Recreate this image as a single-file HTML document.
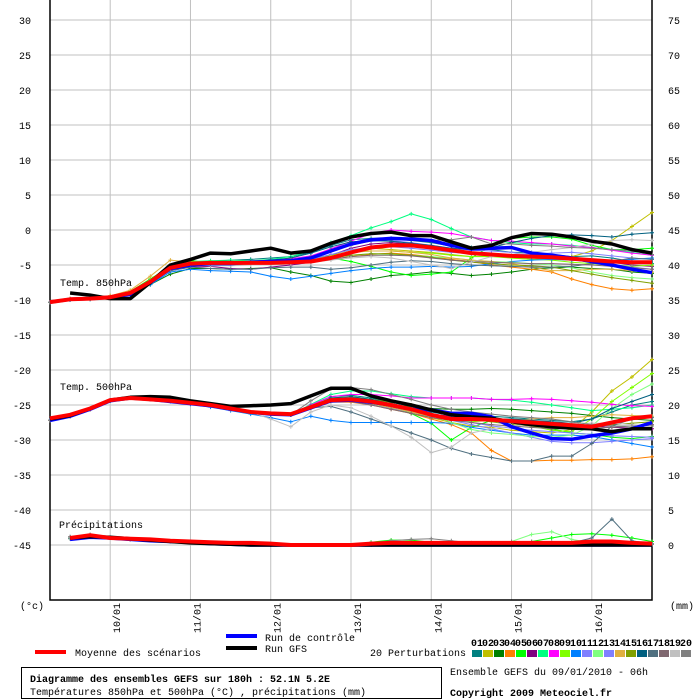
<!DOCTYPE html>
<html><head><meta charset="utf-8"><style>
body{margin:0;background:#fff;width:700px;height:700px;overflow:hidden}
svg{display:block}
text{font-family:"Liberation Mono","DejaVu Sans Mono",monospace;font-size:10px;fill:#000}
</style></head><body>
<svg id="chart" width="700" height="700" xmlns="http://www.w3.org/2000/svg"></svg>
<script>
const dateLabels=["10/01","11/01","12/01","13/01","14/01","15/01","16/01"];
const leftTicks=[30,25,20,15,10,5,0,-5,-10,-15,-20,-25,-30,-35,-40,-45];
const rightTicks=[75,70,65,60,55,50,45,40,35,30,25,20,15,10,5,0];
const pertColors=["#008080","#c0c000","#008000","#ff8000","#00ff00","#800080","#00ff80","#ff00ff","#80ff00","#0080ff","#8080ff","#80ff80","#8080ff","#e0b040","#80a000","#006080","#507080","#806870","#c0c0c0","#808080"];
const mean850=[-10.3,-9.9,-9.8,-9.6,-9.0,-7.4,-5.4,-4.8,-4.7,-4.7,-4.7,-4.7,-4.6,-4.5,-4.0,-3.2,-2.5,-2.2,-2.2,-2.5,-2.9,-3.3,-3.5,-3.7,-3.8,-3.9,-4.1,-4.3,-4.5,-4.6,-4.6];
const gfs850=[null,-9.0,-9.3,-9.8,-9.8,-7.5,-5.0,-4.2,-3.3,-3.4,-3.0,-2.6,-3.3,-3.0,-1.9,-1.0,-0.5,-0.3,-0.8,-0.8,-1.7,-2.6,-2.2,-1.1,-0.5,-0.6,-1.0,-1.6,-2.0,-2.8,-3.3];
const ctrl850=[-10.3,-9.9,-9.8,-9.6,-9.2,-7.5,-5.5,-5.0,-4.8,-4.8,-4.6,-4.5,-4.4,-4.0,-3.0,-2.0,-1.4,-1.2,-1.3,-1.5,-2.2,-2.7,-2.6,-2.5,-3.3,-3.6,-4.0,-4.5,-5.0,-5.6,-6.1];
const pert850=[
[-10.3,-9.9,-9.7,-9.5,-9.0,-7.3,-5.3,-4.5,-4.5,-4.3,-4.2,-4.0,-3.8,-3.2,-2.2,-1.4,-1.2,-1.2,-1.5,-1.8,-2.3,-2.5,-2.8,-3.2,-3.2,-3.5,-3.8,-3.7,-4.0,-4.5,-4.8],
[-10.3,-9.9,-9.8,-9.5,-8.8,-7.0,-5.2,-4.6,-4.8,-4.9,-4.7,-4.3,-4.5,-4.2,-3.6,-2.8,-2.6,-2.8,-3.0,-3.2,-3.5,-3.8,-3.7,-4.0,-4.2,-4.0,-3.8,-3.0,-1.5,0.5,2.5],
[-10.3,-10.0,-9.9,-9.6,-9.2,-7.8,-6.3,-5.5,-5.5,-5.6,-5.5,-5.4,-6.0,-6.5,-7.3,-7.5,-7.0,-6.5,-6.3,-6.0,-6.2,-6.5,-6.3,-6.0,-5.6,-5.4,-5.3,-5.5,-5.6,-6.0,-6.2],
[-10.3,-9.9,-9.8,-9.4,-8.8,-7.1,-5.3,-4.7,-4.8,-4.8,-4.6,-4.6,-4.8,-4.5,-4.2,-3.8,-3.5,-3.3,-3.5,-3.8,-4.2,-4.5,-5.0,-5.3,-5.6,-6.0,-7.0,-7.8,-8.4,-8.6,-8.4],
[-10.3,-9.8,-9.7,-9.5,-8.8,-7.0,-5.2,-4.3,-4.8,-4.9,-4.8,-4.7,-4.6,-4.3,-4.0,-4.5,-5.2,-6.0,-6.5,-6.3,-6.0,-4.0,-2.2,-1.2,-1.0,-1.0,-1.3,-2.2,-2.8,-2.8,-2.6],
[-10.3,-9.9,-9.8,-9.6,-9.0,-7.5,-5.8,-5.3,-5.2,-5.5,-5.6,-5.3,-5.0,-4.6,-3.6,-2.6,-2.0,-1.8,-2.0,-2.3,-2.8,-3.2,-3.4,-3.6,-3.8,-4.0,-4.2,-4.4,-4.6,-5.0,-5.2],
[-10.3,-9.9,-9.8,-9.6,-8.9,-7.2,-5.2,-4.5,-4.4,-4.3,-4.4,-4.2,-3.8,-3.0,-1.8,-0.8,0.3,1.2,2.3,1.5,0.2,-1.0,-1.5,-1.8,-2.0,-2.0,-2.2,-2.5,-2.8,-3.2,-3.6],
[-10.3,-9.9,-9.8,-9.5,-8.9,-7.2,-5.3,-4.6,-4.7,-4.7,-4.5,-4.3,-4.1,-3.7,-2.7,-1.6,-0.5,0.0,-0.2,-0.3,-0.5,-1.0,-1.5,-1.6,-1.8,-2.0,-2.3,-2.5,-2.9,-3.3,-3.6],
[-10.3,-9.9,-9.8,-9.5,-8.9,-7.2,-5.2,-4.5,-4.6,-4.7,-4.5,-4.4,-4.3,-4.0,-3.6,-3.2,-3.0,-3.0,-3.2,-3.3,-3.6,-3.8,-3.8,-4.0,-4.2,-4.3,-4.6,-4.8,-5.0,-5.2,-5.0],
[-10.3,-10.0,-9.9,-9.6,-9.2,-7.8,-6.0,-5.6,-5.8,-5.9,-6.0,-6.6,-7.0,-6.6,-6.2,-5.8,-5.5,-5.3,-5.3,-5.2,-5.3,-5.2,-4.8,-4.5,-4.3,-4.2,-4.3,-4.5,-4.4,-4.2,-4.0],
[-10.3,-9.9,-9.8,-9.6,-9.0,-7.4,-5.5,-4.9,-4.9,-4.8,-4.7,-4.6,-4.4,-4.0,-3.0,-2.0,-1.6,-1.5,-1.8,-2.2,-2.6,-2.9,-3.0,-3.2,-3.5,-3.8,-4.2,-4.6,-5.0,-5.3,-5.6],
[-10.3,-9.9,-9.8,-9.6,-9.0,-7.3,-5.4,-4.8,-4.8,-4.8,-4.7,-4.7,-4.6,-4.4,-4.0,-3.6,-3.4,-3.5,-3.6,-3.8,-4.0,-4.3,-4.5,-4.6,-4.8,-5.0,-5.4,-6.0,-6.5,-6.8,-7.0],
[-10.3,-9.9,-9.8,-9.6,-9.1,-7.5,-5.6,-5.0,-5.1,-5.0,-4.9,-4.8,-4.6,-4.2,-3.5,-2.8,-2.5,-2.4,-2.6,-2.9,-3.2,-3.4,-3.6,-3.5,-3.4,-3.3,-3.2,-3.4,-3.7,-4.0,-4.2],
[-10.3,-9.8,-9.7,-9.4,-8.6,-6.6,-4.3,-4.6,-5.0,-5.0,-4.9,-4.8,-4.7,-4.3,-3.8,-3.2,-3.0,-3.0,-3.2,-3.5,-4.0,-4.3,-4.5,-4.8,-5.3,-5.8,-5.8,-5.6,-5.6,-5.8,-6.0],
[-10.3,-9.9,-9.8,-9.6,-9.0,-7.4,-5.5,-4.9,-5.0,-4.9,-4.8,-4.7,-4.6,-4.4,-4.0,-3.6,-3.4,-3.4,-3.6,-3.9,-4.3,-4.6,-4.8,-5.0,-5.1,-5.3,-5.8,-6.3,-6.8,-7.2,-7.6],
[-10.3,-9.9,-9.8,-9.6,-9.0,-7.4,-5.5,-4.8,-4.7,-4.6,-4.5,-4.3,-4.0,-3.3,-2.4,-1.7,-1.5,-1.6,-1.9,-2.2,-2.6,-2.8,-2.5,-1.8,-1.2,-0.8,-0.7,-0.8,-1.0,-0.6,-0.4],
[-10.3,-9.9,-9.8,-9.6,-9.1,-7.6,-5.8,-5.3,-5.5,-5.6,-5.6,-5.4,-5.3,-5.3,-5.6,-5.4,-5.0,-4.6,-4.4,-4.5,-4.8,-5.0,-5.1,-5.2,-5.3,-5.3,-5.2,-4.8,-4.5,-4.0,-4.2],
[-10.3,-9.9,-9.8,-9.6,-9.0,-7.4,-5.5,-5.0,-5.0,-4.9,-4.8,-4.7,-4.7,-4.6,-4.2,-3.8,-3.6,-3.6,-3.7,-4.0,-4.3,-4.5,-4.6,-4.7,-4.8,-4.8,-4.9,-5.0,-5.2,-5.4,-5.6],
[-10.3,-9.9,-9.8,-9.6,-9.0,-7.5,-5.6,-5.0,-5.1,-5.1,-5.0,-4.9,-4.8,-4.6,-4.3,-4.0,-3.8,-4.0,-4.5,-5.0,-5.5,-4.6,-3.8,-3.5,-3.2,-2.8,-2.5,-2.0,-1.5,-1.4,-1.5],
[-10.3,-9.9,-9.8,-9.6,-9.0,-7.4,-5.5,-4.9,-4.9,-4.8,-4.6,-4.5,-4.3,-3.8,-3.0,-2.2,-1.5,-1.2,-1.1,-1.5,-1.4,-1.0,-2.0,-2.0,-2.2,-2.3,-2.5,-2.6,-2.8,-3.0,-3.5]];
const mean500=[-26.9,-26.4,-25.5,-24.3,-24.0,-24.2,-24.4,-24.7,-25.0,-25.5,-26.0,-26.2,-26.3,-25.3,-24.3,-24.2,-24.5,-25.0,-25.6,-26.4,-27.0,-27.0,-27.1,-27.3,-27.5,-27.7,-27.9,-28.1,-27.5,-26.9,-26.6];
const gfs500=[-27.0,-26.5,-25.5,-24.3,-23.9,-23.8,-23.9,-24.4,-24.8,-25.2,-25.1,-25.0,-24.8,-23.7,-22.6,-22.6,-23.7,-24.4,-25.0,-25.7,-26.4,-26.7,-26.9,-27.4,-27.8,-28.1,-28.3,-28.4,-28.8,-28.4,-28.4];
const ctrl500=[-27.2,-26.6,-25.6,-24.4,-24.0,-24.2,-24.5,-24.8,-25.1,-25.6,-26.0,-26.3,-26.4,-25.4,-24.4,-24.3,-24.6,-25.0,-25.6,-25.7,-26.2,-26.2,-26.7,-28.1,-29.0,-29.8,-29.9,-29.4,-29.0,-28.4,-27.5];
const pert500=[
[-27.2,-26.6,-25.6,-24.4,-24.0,-24.2,-24.4,-24.8,-25.1,-25.6,-26.0,-26.3,-26.4,-25.0,-23.8,-23.6,-24.0,-24.6,-25.2,-25.8,-26.2,-26.4,-26.6,-26.8,-27.0,-27.2,-27.4,-27.0,-26.0,-25.0,-24.5],
[-27.2,-26.6,-25.6,-24.4,-24.0,-24.2,-24.4,-24.8,-25.1,-25.6,-26.0,-26.3,-26.4,-25.2,-24.2,-24.0,-24.5,-25.2,-26.0,-26.8,-27.5,-28.0,-28.2,-28.6,-28.8,-29.0,-28.5,-26.0,-23.0,-21.0,-18.5],
[-27.2,-26.6,-25.6,-24.4,-24.0,-24.2,-24.4,-24.8,-25.1,-25.6,-26.0,-26.3,-26.4,-25.4,-24.5,-24.4,-24.8,-25.0,-25.2,-25.5,-25.6,-25.6,-25.5,-25.6,-25.8,-26.0,-26.2,-26.5,-26.8,-27.0,-27.2],
[-27.2,-26.6,-25.6,-24.4,-24.0,-24.2,-24.4,-24.8,-25.1,-25.6,-26.0,-26.3,-26.4,-25.5,-24.6,-24.6,-25.0,-25.6,-26.2,-27.0,-27.8,-29.0,-31.5,-33.0,-33.0,-32.9,-32.9,-32.8,-32.8,-32.7,-32.4],
[-27.2,-26.6,-25.6,-24.4,-24.0,-24.2,-24.4,-24.8,-25.1,-25.6,-26.0,-26.3,-26.4,-25.3,-24.3,-24.3,-24.8,-25.4,-26.2,-27.6,-30.0,-28.2,-27.2,-27.4,-27.8,-28.4,-29.0,-29.2,-29.6,-29.8,-29.5],
[-27.2,-26.6,-25.6,-24.4,-24.0,-24.2,-24.4,-24.8,-25.1,-25.6,-26.0,-26.3,-26.4,-25.4,-24.5,-24.4,-24.8,-25.3,-25.8,-26.3,-26.6,-26.8,-27.0,-27.2,-27.4,-27.6,-27.9,-28.0,-28.2,-28.3,-28.4],
[-27.2,-26.6,-25.6,-24.4,-24.0,-24.2,-24.4,-24.8,-25.1,-25.6,-26.0,-26.3,-26.4,-24.9,-23.5,-23.0,-23.0,-23.4,-23.8,-24.0,-24.0,-24.0,-24.2,-24.3,-24.6,-25.0,-25.4,-25.8,-25.6,-25.4,-25.0],
[-27.2,-26.6,-25.6,-24.4,-24.0,-24.2,-24.4,-24.8,-25.1,-25.6,-26.0,-26.3,-26.4,-25.0,-23.8,-23.5,-23.5,-23.7,-24.0,-24.0,-24.0,-24.0,-24.2,-24.2,-24.1,-24.2,-24.4,-24.6,-24.9,-25.1,-25.2],
[-27.2,-26.6,-25.6,-24.4,-24.0,-24.2,-24.4,-24.8,-25.1,-25.6,-26.0,-26.3,-26.4,-25.2,-24.0,-23.8,-24.2,-24.8,-25.5,-26.2,-27.0,-27.4,-27.2,-27.5,-28.0,-28.6,-28.8,-27.0,-24.5,-22.5,-20.5],
[-27.2,-26.6,-25.6,-24.4,-24.0,-24.2,-24.5,-24.9,-25.3,-25.8,-26.3,-26.8,-27.4,-26.6,-27.2,-27.5,-27.5,-27.5,-27.5,-27.5,-27.6,-28.2,-28.6,-29.0,-29.3,-29.3,-29.3,-29.5,-30.0,-30.5,-31.0],
[-27.2,-26.6,-25.6,-24.4,-24.0,-24.2,-24.4,-24.8,-25.1,-25.6,-26.0,-26.3,-26.4,-25.4,-24.6,-24.5,-25.0,-25.5,-26.0,-26.6,-27.2,-27.8,-28.4,-29.0,-29.6,-30.2,-30.4,-30.4,-30.2,-30.0,-29.8],
[-27.2,-26.6,-25.6,-24.4,-24.0,-24.2,-24.4,-24.8,-25.1,-25.6,-26.0,-26.3,-26.4,-25.2,-24.0,-23.8,-24.2,-24.8,-25.5,-26.3,-27.5,-28.5,-29.0,-29.2,-29.5,-29.6,-29.3,-28.0,-25.5,-23.5,-22.0],
[-27.2,-26.6,-25.6,-24.4,-24.0,-24.2,-24.4,-24.8,-25.1,-25.6,-26.0,-26.3,-26.4,-25.3,-24.2,-24.2,-24.6,-25.2,-25.8,-26.4,-27.0,-27.5,-28.0,-28.3,-28.6,-28.8,-29.0,-29.2,-29.4,-29.5,-29.6],
[-27.2,-26.6,-25.6,-24.4,-24.0,-24.2,-24.4,-24.8,-25.1,-25.6,-26.0,-26.3,-26.4,-25.3,-24.4,-24.4,-24.8,-25.4,-26.0,-26.6,-27.0,-27.2,-27.3,-27.2,-27.0,-26.8,-26.8,-26.6,-26.4,-26.5,-26.6],
[-27.2,-26.6,-25.6,-24.4,-24.0,-24.2,-24.4,-24.8,-25.1,-25.6,-26.0,-26.3,-26.4,-25.3,-24.2,-24.0,-24.2,-24.6,-25.0,-25.6,-26.4,-27.0,-27.4,-27.8,-28.0,-28.2,-28.4,-28.2,-27.8,-27.6,-27.4],
[-27.2,-26.6,-25.6,-24.4,-24.0,-24.2,-24.4,-24.8,-25.1,-25.6,-26.0,-26.3,-26.4,-25.2,-24.0,-23.8,-24.2,-24.8,-25.4,-26.0,-26.5,-26.8,-27.0,-27.0,-27.2,-27.4,-27.6,-27.0,-25.5,-24.5,-23.5],
[-27.2,-26.6,-25.6,-24.4,-24.0,-24.2,-24.4,-24.8,-25.1,-25.6,-26.0,-26.3,-26.4,-25.4,-25.2,-26.0,-27.0,-28.0,-29.0,-30.0,-31.2,-32.0,-32.5,-33.0,-33.0,-32.3,-32.3,-30.5,-28.0,-27.0,-26.8],
[-27.2,-26.6,-25.6,-24.4,-24.0,-24.2,-24.4,-24.8,-25.1,-25.6,-26.0,-26.3,-26.4,-25.4,-24.5,-24.5,-25.0,-25.6,-26.2,-26.8,-27.2,-27.5,-27.8,-28.0,-28.2,-28.4,-28.4,-28.3,-28.2,-28.0,-27.8],
[-27.2,-26.6,-25.6,-24.4,-24.0,-24.2,-24.4,-24.8,-25.1,-25.6,-26.0,-27.0,-28.1,-26.0,-25.0,-25.4,-26.6,-28.0,-29.6,-31.8,-31.0,-29.0,-28.4,-28.0,-27.8,-27.6,-27.6,-27.6,-27.6,-27.8,-28.0],
[-27.2,-26.6,-25.6,-24.4,-24.0,-24.2,-24.4,-24.8,-25.1,-25.6,-26.0,-26.3,-26.4,-24.4,-22.7,-22.5,-22.8,-23.5,-24.2,-25.0,-25.6,-26.0,-26.3,-26.6,-26.8,-27.0,-27.4,-27.8,-28.0,-28.0,-28.0]];
const meanPrecip=[null,1.0,1.4,1.0,0.9,0.8,0.6,0.5,0.4,0.3,0.3,0.2,0,0,0,0,0.2,0.3,0.3,0.3,0.3,0.3,0.3,0.3,0.3,0.3,0.3,0.5,0.5,0.3,0.2];
const gfsPrecip=[null,1.0,1.2,1.1,0.9,0.7,0.5,0.3,0.2,0.1,0,0,0,0,0,0,0,0,0,0,0,0,0,0,0,0,0,0,0,0,0];
const ctrlPrecip=[null,0.8,1.1,1.0,0.8,0.6,0.5,0.4,0.2,0.1,0,0,0,0,0,0,0,0,0,0,0,0,0,0,0,0,0,0,0,0,0];
const basePrecip=[null,1.1,1.3,1.0,0.8,0.7,0.5,0.4,0.3,0.2,0.1,0,0,0,0,0,0,0.1,0.1,0.1,0.1,0.1,0.1,0.1,0.1,0.1,0.1,0.1,0.1,0.1,0.1];
const p05Precip=[null,1.0,1.2,1.0,0.8,0.7,0.5,0.4,0.3,0.2,0.1,0,0,0,0,0,0.4,0.7,0.7,0.4,0.2,0.2,0.2,0.3,0.5,1.0,1.5,1.6,1.4,1.0,0.5];
const p12Precip=[null,1.0,1.3,1.0,0.8,0.7,0.5,0.4,0.3,0.2,0.1,0,0,0,0,0,0.1,0.2,0.2,0.2,0.2,0.2,0.2,0.5,1.5,1.9,0.8,0.3,0.2,0.1,0.1];
const p17Precip=[null,0.9,1.2,1.0,0.8,0.7,0.5,0.4,0.3,0.2,0.1,0,0,0,0,0,0.1,0.2,0.2,0.2,0.2,0.2,0.2,0.3,0.3,0.3,0.3,1.0,3.7,0.6,0.2];
const p20Precip=[null,1.2,1.5,1.0,0.8,0.7,0.5,0.4,0.3,0.2,0.1,0,0,0,0,0,0.3,0.6,0.8,0.9,0.6,0.3,0.3,0.5,0.5,0.4,0.3,0.2,0.2,0.1,0.1];

const NS="http://www.w3.org/2000/svg";
const svg=document.getElementById('chart');
const X0=50,X1=652,STEPS=30;
function xs(i){return X0+(X1-X0)*i/STEPS;}
function yT(v){return 230-v*7;}
function yP(mm){return 545-mm*7;}
function mk(tag,attrs,parent){const e=document.createElementNS(NS,tag);for(const k in attrs)e.setAttribute(k,attrs[k]);(parent||svg).appendChild(e);return e;}
function txt(x,y,s,attrs){const t=mk('text',Object.assign({x:x,y:y},attrs||{}));t.textContent=s;return t;}

const grid=mk('g',{});


leftTicks.forEach(v=>{mk('line',{x1:X0,x2:X1,y1:yT(v),y2:yT(v),stroke:'#c0c0c0','stroke-width':1},grid);});
dateLabels.forEach((d,k)=>{const x=xs(3+4*k);mk('line',{x1:x,x2:x,y1:0,y2:600,stroke:'#c0c0c0','stroke-width':1},grid);});
const frame=mk('path',{d:`M${X0},0V600H${X1}V0`,fill:'none',stroke:'#000','stroke-width':1.5});


leftTicks.forEach(v=>{const t=txt(31,yT(v)+4,String(v),{'text-anchor':'end'});

});
rightTicks.forEach((v,k)=>{const t=txt(668,yT(leftTicks[k])+4,String(v));

});
dateLabels.forEach((d,k)=>{const x=xs(3+4*k)+10;const t=txt(x,633,d,{transform:`rotate(-90 ${x} 633)`});

});
const uc=txt(20,609,'(°c)');
const um=txt(670,609,'(mm)');

function series(arr,yf,color,w,markers,name){
  let d='';let started=false;
  arr.forEach((v,i)=>{if(v===null)return;d+=(started?'L':'M')+xs(i).toFixed(1)+','+yf(v).toFixed(1);started=true;});
  const g=mk('g',{});
  
  
  mk('path',{d:d,fill:'none',stroke:color,'stroke-width':w,'stroke-linejoin':'round'},g);
  if(markers){let md='';arr.forEach((v,i)=>{if(v===null)return;const x=xs(i),y=yf(v);md+=`M${x-2},${y}h4M${x},${y-2}v4`;});
    mk('path',{d:md,stroke:color,'stroke-width':1,fill:'none'},g);}
}
const precipPerts=pertColors.map((c,k)=>k===4?p05Precip:k===11?p12Precip:k===16?p17Precip:k===19?p20Precip:basePrecip);
pert850.forEach((a,k)=>series(a,yT,pertColors[k],1,true,'pert-850-'+(k+1)));
pert500.forEach((a,k)=>series(a,yT,pertColors[k],1,true,'pert-500-'+(k+1)));
precipPerts.forEach((a,k)=>series(a,yP,pertColors[k],1,true,'pert-precip-'+(k+1)));
series(ctrl850,yT,'#0000ff',3.5,false,'control-850');
series(ctrl500,yT,'#0000ff',3.5,false,'control-500');
series(ctrlPrecip,yP,'#0000ff',3.5,false,'control-precip');
series(gfs850,yT,'#000',3.5,false,'gfs-850');
series(gfs500,yT,'#000',3.5,false,'gfs-500');
series(gfsPrecip,yP,'#000',3.5,false,'gfs-precip');
series(mean850,yT,'#ff0000',4,false,'mean-850');
series(mean500,yT,'#ff0000',4,false,'mean-500');
series(meanPrecip,yP,'#ff0000',4,false,'mean-precip');

let t;
t=txt(60,286,'Temp. 850hPa');
t=txt(60,390,'Temp. 500hPa');
t=txt(59,528,'Précipitations');

const lg=mk('g',{});


mk('rect',{x:35,y:650,width:31,height:4,fill:'#ff0000'},lg);
mk('rect',{x:226,y:634,width:31,height:4,fill:'#0000ff'},lg);
mk('rect',{x:226,y:646,width:31,height:4,fill:'#000'},lg);
t=txt(75,656,'Moyenne des scénarios');
t=txt(265,641,'Run de contrôle');
t=txt(265,652,'Run GFS');
t=txt(370,656,'20 Perturbations');
pertColors.forEach((c,k)=>{const x=472+k*11;
  const r=mk('rect',{x:x,y:650,width:10,height:7,fill:c},lg);
  
  
  const n=txt(x+5,646,String(k+1).padStart(2,'0'),{'text-anchor':'middle','font-size':'7','font-weight':'bold'});
  
  });

const tb=mk('rect',{x:21.5,y:667.5,width:420,height:31,fill:'none',stroke:'#000','stroke-width':1});


t=txt(30,682,'Diagramme des ensembles GEFS sur 180h : 52.1N 5.2E',{'font-size':'11.5','font-weight':'bold'});
t=txt(30,695,'Températures 850hPa et 500hPa (°C) , précipitations (mm)');
t=txt(450,675,'Ensemble GEFS du 09/01/2010 - 06h');
t=txt(450,696,'Copyright 2009 Meteociel.fr',{'font-size':'11.8','font-weight':'bold'});
</script>
</body></html>
